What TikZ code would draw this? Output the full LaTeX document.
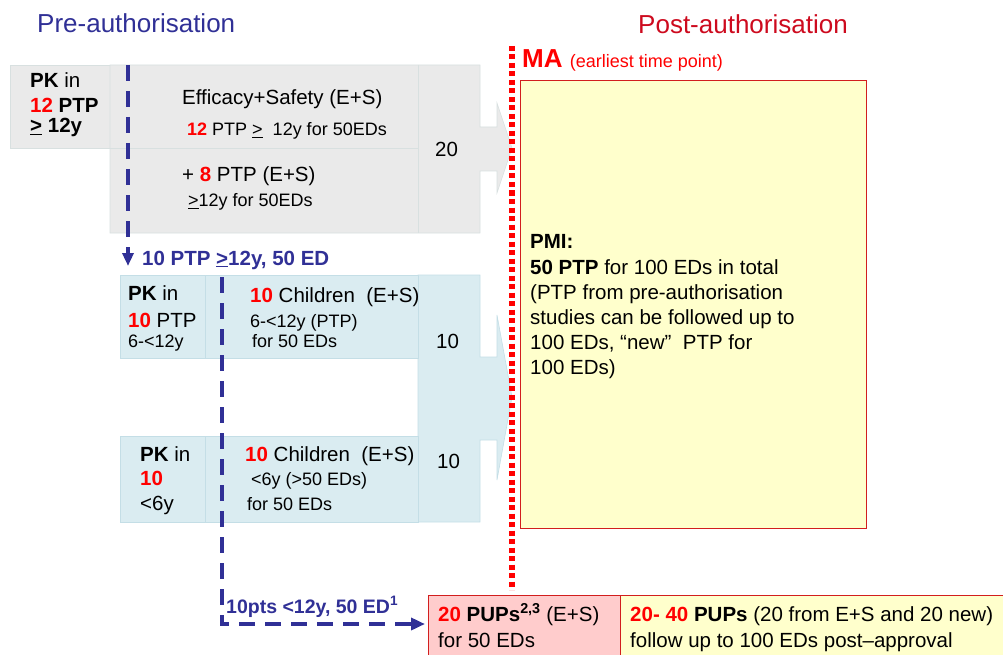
\documentclass[tikz,border=0pt]{standalone}
\usepackage{fontspec}
\setmainfont{Liberation Sans}
\usetikzlibrary{arrows.meta}

\definecolor{preblue}{RGB}{48,48,150}
\definecolor{postred}{RGB}{205,10,30}
\definecolor{numred}{RGB}{255,0,0}
\definecolor{boxgrey}{RGB}{234,234,234}
\definecolor{linegrey}{RGB}{216,224,224}
\definecolor{boxteal}{RGB}{218,236,241}
\definecolor{lineteal}{RGB}{196,222,230}
\definecolor{pmiyellow}{RGB}{255,255,204}
\definecolor{pupred}{RGB}{255,204,204}
\definecolor{framered}{RGB}{210,30,30}

\newcommand{\fmain}{\fontsize{20.5}{24}\selectfont}
\newcommand{\fsub}{\fontsize{18}{22}\selectfont}
\newcommand{\fhead}{\fontsize{26}{30}\selectfont}
\newcommand{\nr}[1]{\textcolor{numred}{\textbf{#1}}}
\newcommand{\geu}{\underline{>}}

\begin{document}
\begin{tikzpicture}[x=1pt, y=-1pt,
    txt/.style={anchor=base west, inner sep=0pt, font=\fmain},
    subtxt/.style={txt, font=\fsub},
    greybox/.style={fill=boxgrey, draw=linegrey, line width=0.6pt},
    tealbox/.style={fill=boxteal, draw=lineteal, line width=0.6pt},
    redframe/.style={draw=framered, line width=1pt},
    bluedash/.style={preblue, line width=3.5pt, dash pattern=on 16pt off 10pt}]

    % Fix the size of the page
    \useasboundingbox (0,0) rectangle (1003,655);

    % Grey block: PK in adults, E+S studies and the arrow "20"
    \path[greybox] (10,65) rectangle (110,148);
    \path[greybox] (110,65) -- (480,65) -- (480,127) -- (497,127) -- (497,103)
        -- (512,148) -- (497,193) -- (497,171) -- (480,171) -- (480,233)
        -- (110,233) -- cycle;
    \draw[linegrey, line width=0.6pt] (110,148) -- (418,148);
    \draw[linegrey, line width=0.6pt] (418,65) -- (418,233);

    % Teal blocks: children studies and the arrow "10"/"10"
    \path[tealbox] (418,275) -- (480,275) -- (480,357) -- (497,357) -- (497,315)
        -- (512,397) -- (497,480) -- (497,440) -- (480,440) -- (480,522)
        -- (418,522) -- cycle;
    \path[tealbox] (120,275) rectangle (205,358);
    \path[tealbox] (205,275) rectangle (418,358);
    \path[tealbox] (120,436) rectangle (205,522);
    \path[tealbox] (205,436) rectangle (418,522);

    % Post-authorisation boxes
    \path[fill=pmiyellow, redframe] (520,81) rectangle (866,528);
    \path[fill=pupred, redframe] (428,595) rectangle (620,662);
    \path[fill=pmiyellow, redframe] (620,595) rectangle (1010,662);

    % Headings
    \node[txt, font=\fhead, text=preblue] (pre) at (37,33) {Pre-authorisation};
    \node[txt, font=\fhead, text=postred] (post) at (638,34) {Post-authorisation};
    \node[txt, font=\fhead, text=numred] (ma) at (522,68)
        {\textbf{MA} {\fontsize{18}{20}\selectfont(earliest time point)}};

    % Texts of the grey block
    \node[txt] (pkA1) at (30,88) {\textbf{PK} in};
    \node[txt] (pkA2) at (30,113) {\textbf{\nr{12} PTP}};
    \node[txt] (pkA3) at (30,133) {\textbf{\geu\ 12y}};
    \node[txt] (esA1) at (182,105) {Efficacy+Safety (E+S)};
    \node[subtxt] (esA2) at (187,136) {\nr{12} PTP \geu~ 12y for 50EDs};
    \node[txt] (esB1) at (182,182) {+ \nr{8} PTP (E+S)};
    \node[subtxt] (esB2) at (188,207) {\geu12y for 50EDs};
    \node[txt] (numA) at (435,157) {20};

    % Texts of the teal blocks
    \node[txt] (pkB1) at (128,300) {\textbf{PK} in};
    \node[txt] (pkB2) at (128,327) {\nr{10} PTP};
    \node[subtxt] (pkB3) at (128,347) {6-<12y};
    \node[txt] (chB1) at (250,302) {\nr{10} Children~ (E+S)};
    \node[subtxt] (chB2) at (250,327) {6-<12y (PTP)};
    \node[subtxt] (chB3) at (252,347) {for 50 EDs};
    \node[txt] (numB) at (436,348) {10};
    \node[txt] (pkC1) at (140,461) {\textbf{PK} in};
    \node[txt] (pkC2) at (140,485) {\nr{10}};
    \node[txt] (pkC3) at (140,510) {<6y};
    \node[txt] (chC1) at (245,461) {\nr{10} Children~ (E+S)};
    \node[subtxt] (chC2) at (251,485) {<6y (>50 EDs)};
    \node[subtxt] (chC3) at (247,510) {for 50 EDs};
    \node[txt] (numC) at (437,468) {10};

    % Texts of the PMI box
    \node[txt] (pmi0) at (530,248) {\textbf{PMI:}};
    \node[txt] (pmi1) at (530,274) {\textbf{50 PTP} for 100 EDs in total};
    \node[txt] (pmi2) at (530,299) {(PTP from pre-authorisation};
    \node[txt] (pmi3) at (530,324) {studies can be followed up to};
    \node[txt] (pmi4) at (530,349) {100 EDs, “new”~ PTP for};
    \node[txt] (pmi5) at (530,374) {100 EDs)};

    % Texts of the PUP boxes
    \node[txt] (pupA1) at (438,621) {\nr{20} \textbf{PUPs}\textsuperscript{\textbf{2,3}} (E+S)};
    \node[txt] (pupA2) at (438,647) {for 50 EDs};
    \node[txt] (pupB1) at (630,621) {\nr{20- 40} \textbf{PUPs} (20 from E+S and 20 new)};
    \node[txt] (pupB2) at (630,647) {follow up to 100 EDs post–approval};

    % Dashed blue arrows with their labels
    \coordinate (dashA) at (128,65);
    \coordinate (dashAend) at (128,266);
    \draw[bluedash, -{Triangle[length=13pt, width=11pt]}] (dashA) -- (dashAend);
    \node[txt, text=preblue] (lblA) at (142,265) {\textbf{10 PTP \geu12y, 50 ED}};

    \coordinate (dashB) at (222,277);
    \coordinate (dashBturn) at (222,624);
    \coordinate (dashBend) at (425,624);
    \draw[bluedash, -{Triangle[length=14pt, width=12pt]}] (dashB) -- (dashBturn) -- (dashBend);
    \node[txt, font=\fontsize{19.5}{22}\selectfont, text=preblue] (lblB) at (226,613)
        {\textbf{10pts <12y, 50 ED\textsuperscript{1}}};

    % Red dotted line: marketing authorisation
    \coordinate (maTop) at (512,46);
    \coordinate (maBot) at (512,590);
    \draw[numred, line width=5.5pt, dash pattern=on 5pt off 3.5pt] (maTop) -- (maBot);

\end{tikzpicture}
\end{document}
